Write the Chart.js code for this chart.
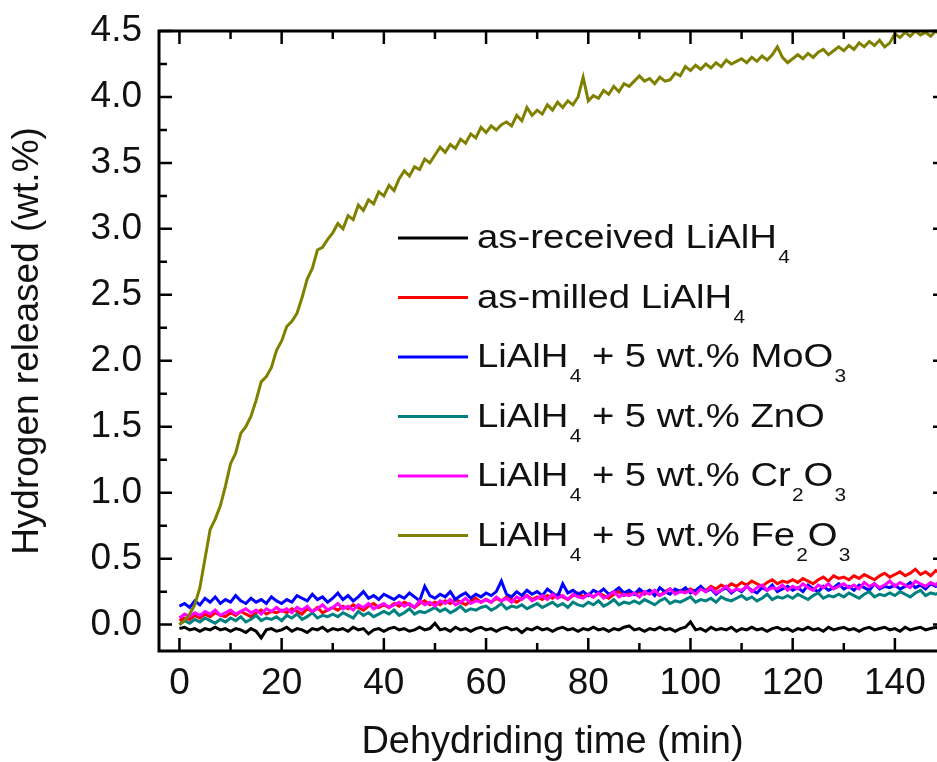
<!DOCTYPE html>
<html>
<head>
<meta charset="utf-8">
<title>Hydrogen released vs dehydriding time</title>
<script src="https://cdn.jsdelivr.net/npm/chart.js@4.4.0/dist/chart.umd.min.js"></script>
<style>
html,body{margin:0;padding:0;background:#fff;overflow:hidden;}
#wrap{width:960px;height:762px;}
</style>
</head>
<body>
<div id="wrap"><canvas id="chart" width="960" height="762"></canvas></div>
<script>
// time axis (min), one reading per minute
const time = [0,1,2,3,4,5,6,7,8,9,10,11,12,13,14,15,16,17,18,19,20,21,22,23,24,25,26,27,28,29,30,31,32,33,34,35,36,37,38,39,40,41,42,43,44,45,46,47,48,49,50,51,52,53,54,55,56,57,58,59,60,61,62,63,64,65,66,67,68,69,70,71,72,73,74,75,76,77,78,79,80,81,82,83,84,85,86,87,88,89,90,91,92,93,94,95,96,97,98,99,100,101,102,103,104,105,106,107,108,109,110,111,112,113,114,115,116,117,118,119,120,121,122,123,124,125,126,127,128,129,130,131,132,133,134,135,136,137,138,139,140,141,142,143,144,145,146,147,148,149,150];

// hydrogen released (wt.%)
const asReceived = [-0.03,-0.02,-0.04,-0.03,-0.05,-0.03,-0.04,-0.02,-0.04,-0.03,
  -0.05,-0.03,-0.04,-0.06,-0.03,-0.05,-0.10,-0.04,-0.03,-0.05,
  -0.04,-0.02,-0.05,-0.03,-0.04,-0.06,-0.03,-0.04,-0.02,-0.05,
  -0.03,-0.04,-0.03,-0.05,-0.02,-0.04,-0.03,-0.07,-0.04,-0.03,
  -0.05,-0.03,-0.02,-0.04,-0.03,-0.05,-0.04,-0.02,-0.04,-0.03,
  0.01,-0.04,-0.03,-0.05,-0.02,-0.04,-0.03,-0.05,-0.03,-0.02,
  -0.04,-0.03,-0.05,-0.03,-0.02,-0.04,-0.03,-0.06,-0.03,-0.04,
  -0.02,-0.04,-0.03,-0.05,-0.03,-0.02,-0.04,-0.03,-0.05,-0.03,
  -0.04,-0.02,-0.04,-0.03,-0.05,-0.03,-0.04,-0.02,-0.01,-0.04,
  -0.03,-0.05,-0.03,-0.04,-0.02,-0.04,-0.03,-0.05,-0.03,-0.02,
  0.02,-0.04,-0.03,-0.05,-0.02,-0.04,-0.03,-0.04,-0.02,-0.05,
  -0.03,-0.04,-0.02,-0.04,-0.03,-0.05,-0.03,-0.02,-0.04,-0.03,
  -0.05,-0.03,-0.04,-0.02,-0.04,-0.03,-0.05,-0.02,-0.04,-0.03,
  -0.02,-0.04,-0.03,-0.05,-0.03,-0.02,-0.04,-0.03,-0.02,-0.04,
  -0.03,-0.05,-0.02,-0.04,-0.03,-0.02,-0.04,-0.03,-0.02,-0.04,-0.03];

const asMilled = [0.03,0.05,0.04,0.07,0.05,0.08,0.06,0.09,0.07,0.06,
  0.09,0.07,0.10,0.08,0.06,0.09,0.11,0.08,0.10,0.09,
  0.11,0.09,0.12,0.10,0.08,0.12,0.10,0.13,0.09,0.11,
  0.13,0.11,0.14,0.12,0.15,0.13,0.11,0.14,0.16,0.13,
  0.15,0.13,0.16,0.14,0.17,0.15,0.13,0.16,0.18,0.15,
  0.17,0.15,0.18,0.16,0.19,0.17,0.15,0.18,0.20,0.17,
  0.19,0.17,0.20,0.18,0.21,0.19,0.17,0.20,0.22,0.19,
  0.21,0.19,0.22,0.20,0.23,0.21,0.19,0.22,0.24,0.21,
  0.23,0.21,0.24,0.22,0.20,0.23,0.25,0.22,0.24,0.23,
  0.25,0.23,0.26,0.24,0.22,0.25,0.27,0.24,0.26,0.25,
  0.27,0.25,0.28,0.26,0.29,0.27,0.30,0.28,0.31,0.29,
  0.32,0.30,0.33,0.31,0.29,0.32,0.34,0.31,0.33,0.32,
  0.34,0.32,0.35,0.33,0.31,0.34,0.36,0.33,0.37,0.35,
  0.36,0.34,0.37,0.35,0.38,0.36,0.34,0.37,0.39,0.36,
  0.38,0.40,0.37,0.39,0.42,0.38,0.40,0.37,0.41,0.39,0.40];

const withMoO3 = [0.14,0.16,0.13,0.18,0.15,0.20,0.17,0.21,0.16,0.19,
  0.17,0.22,0.18,0.16,0.20,0.17,0.19,0.16,0.21,0.18,
  0.16,0.19,0.17,0.22,0.20,0.18,0.23,0.19,0.21,0.17,
  0.20,0.24,0.19,0.22,0.18,0.21,0.25,0.20,0.22,0.19,
  0.23,0.21,0.19,0.22,0.20,0.24,0.21,0.18,0.29,0.22,
  0.20,0.23,0.21,0.25,0.19,0.22,0.24,0.20,0.23,0.21,
  0.24,0.22,0.25,0.33,0.23,0.21,0.25,0.22,0.26,0.23,
  0.25,0.22,0.27,0.24,0.21,0.31,0.24,0.26,0.23,0.25,
  0.22,0.26,0.24,0.27,0.23,0.25,0.28,0.24,0.26,0.23,
  0.27,0.24,0.26,0.22,0.28,0.25,0.23,0.27,0.25,0.28,
  0.24,0.26,0.29,0.25,0.27,0.23,0.26,0.28,0.24,0.27,
  0.25,0.29,0.26,0.24,0.28,0.26,0.30,0.25,0.27,0.29,
  0.26,0.28,0.25,0.30,0.27,0.25,0.29,0.26,0.28,0.31,
  0.27,0.29,0.26,0.30,0.28,0.26,0.31,0.27,0.29,0.28,
  0.30,0.27,0.29,0.32,0.28,0.30,0.27,0.31,0.29,0.30,0.28];

const withZnO = [0.00,0.03,0.01,0.04,0.02,0.05,0.03,0.01,0.04,0.02,
  0.05,0.03,0.06,0.02,0.04,0.07,0.03,0.05,0.04,0.06,
  0.03,0.07,0.05,0.08,0.04,0.06,0.09,0.05,0.07,0.06,
  0.08,0.06,0.09,0.07,0.05,0.10,0.07,0.09,0.06,0.08,
  0.10,0.08,0.11,0.07,0.09,0.12,0.08,0.10,0.09,0.11,
  0.13,0.10,0.12,0.09,0.11,0.14,0.10,0.12,0.11,0.13,
  0.14,0.11,0.13,0.16,0.12,0.14,0.13,0.15,0.12,0.14,
  0.16,0.13,0.15,0.17,0.14,0.16,0.13,0.17,0.15,0.14,
  0.17,0.15,0.18,0.14,0.16,0.19,0.15,0.17,0.16,0.18,
  0.16,0.19,0.17,0.15,0.18,0.20,0.16,0.18,0.17,0.19,
  0.21,0.17,0.19,0.18,0.20,0.17,0.21,0.19,0.18,0.20,
  0.22,0.19,0.21,0.18,0.20,0.23,0.19,0.21,0.20,0.22,
  0.20,0.23,0.21,0.19,0.22,0.24,0.20,0.22,0.21,0.23,
  0.21,0.24,0.22,0.20,0.23,0.25,0.21,0.23,0.22,0.24,
  0.22,0.25,0.23,0.21,0.24,0.26,0.22,0.24,0.23,0.25,0.24];

const withCr2O3 = [0.05,0.08,0.06,0.09,0.07,0.10,0.08,0.11,0.07,0.09,
  0.11,0.08,0.10,0.12,0.09,0.11,0.08,0.12,0.10,0.13,
  0.10,0.12,0.09,0.13,0.11,0.14,0.10,0.12,0.15,0.11,
  0.13,0.16,0.12,0.14,0.11,0.15,0.13,0.16,0.12,0.14,
  0.16,0.13,0.15,0.17,0.14,0.16,0.13,0.18,0.15,0.17,
  0.14,0.18,0.16,0.19,0.15,0.17,0.20,0.16,0.18,0.17,
  0.19,0.17,0.21,0.18,0.20,0.17,0.21,0.19,0.22,0.18,
  0.20,0.22,0.19,0.23,0.20,0.22,0.19,0.23,0.21,0.20,
  0.23,0.21,0.24,0.20,0.22,0.25,0.21,0.23,0.22,0.24,
  0.21,0.25,0.23,0.26,0.22,0.24,0.27,0.23,0.25,0.24,
  0.26,0.23,0.27,0.25,0.28,0.24,0.26,0.29,0.25,0.27,
  0.26,0.29,0.25,0.28,0.30,0.26,0.28,0.27,0.30,0.26,
  0.29,0.27,0.31,0.28,0.26,0.30,0.28,0.31,0.27,0.29,
  0.31,0.28,0.30,0.27,0.32,0.29,0.31,0.28,0.30,0.33,
  0.29,0.32,0.30,0.28,0.33,0.31,0.29,0.32,0.30,0.34,0.32];

const withFe2O3 = [0.00,0.03,0.08,0.15,0.28,0.50,0.72,0.80,0.90,1.05,
  1.22,1.30,1.45,1.50,1.58,1.70,1.84,1.88,1.95,2.08,
  2.15,2.26,2.30,2.36,2.48,2.62,2.70,2.84,2.86,2.92,
  2.97,3.04,3.00,3.10,3.07,3.18,3.14,3.22,3.19,3.28,
  3.25,3.33,3.29,3.38,3.44,3.40,3.47,3.45,3.53,3.50,
  3.56,3.62,3.58,3.64,3.61,3.68,3.65,3.72,3.69,3.77,
  3.73,3.78,3.75,3.79,3.81,3.78,3.86,3.82,3.92,3.86,
  3.90,3.87,3.94,3.90,3.96,3.92,3.97,3.94,4.00,4.15,
  3.97,4.01,3.99,4.05,4.02,4.08,4.04,4.10,4.08,4.12,
  4.16,4.12,4.14,4.10,4.15,4.12,4.13,4.18,4.16,4.23,
  4.20,4.24,4.21,4.25,4.22,4.26,4.23,4.28,4.25,4.27,
  4.29,4.26,4.30,4.27,4.31,4.28,4.32,4.38,4.30,4.26,
  4.29,4.32,4.29,4.33,4.30,4.34,4.36,4.32,4.35,4.38,
  4.35,4.39,4.36,4.41,4.38,4.42,4.39,4.43,4.38,4.41,
  4.48,4.45,4.49,4.46,4.50,4.47,4.49,4.46,4.50,4.47,4.49];

const seriesLabels = ['as-received LiAlH₄', 'as-milled LiAlH₄', 'LiAlH₄ + 5 wt.% MoO₃',
  'LiAlH₄ + 5 wt.% ZnO', 'LiAlH₄ + 5 wt.% Cr₂O₃', 'LiAlH₄ + 5 wt.% Fe₂O₃'];
const seriesColors = ['#000000', '#ff0000', '#0000ff', '#008080', '#ff00ff', '#808000'];
const seriesValues = [asReceived, asMilled, withMoO3, withZnO, withCr2O3, withFe2O3];
// drawing order: Fe2O3 on top, then Cr2O3, ZnO, MoO3, as-milled, as-received
const seriesOrder = [5, 4, 3, 2, 1, 0];

// tick positions
const xMajor = [0, 20, 40, 60, 80, 100, 120, 140];
const xMinor = [10, 30, 50, 70, 90, 110, 130, 150];
const yMajor = [0, 0.5, 1.0, 1.5, 2.0, 2.5, 3.0, 3.5, 4.0, 4.5];
const yMinor = [0.25, 0.75, 1.25, 1.75, 2.25, 2.75, 3.25, 3.75, 4.25];

const FONT = "'Liberation Sans', Arial, sans-serif";
const SUB = {'₂': '2', '₃': '3', '₄': '4'};

// box frame with inward ticks on all four sides
const framePlugin = {
  id: 'frame',
  afterDatasetsDraw(chart) {
    const {ctx, chartArea: a, scales: {x, y}} = chart;
    ctx.save();
    ctx.strokeStyle = '#000';
    ctx.lineWidth = 3;
    ctx.strokeRect(a.left, a.top, a.right - a.left, a.bottom - a.top);
    ctx.lineWidth = 2.5;
    ctx.beginPath();
    const xt = (v, len) => {
      const px = x.getPixelForValue(v);
      ctx.moveTo(px, a.bottom); ctx.lineTo(px, a.bottom - len);
      ctx.moveTo(px, a.top); ctx.lineTo(px, a.top + len);
    };
    const yt = (v, len) => {
      const py = y.getPixelForValue(v);
      ctx.moveTo(a.left, py); ctx.lineTo(a.left + len, py);
      ctx.moveTo(a.right, py); ctx.lineTo(a.right - len, py);
    };
    xMajor.forEach(v => xt(v, 13));
    xMinor.forEach(v => xt(v, 8));
    yMajor.forEach(v => yt(v, 13));
    yMinor.forEach(v => yt(v, 8));
    ctx.stroke();
    ctx.restore();
  }
};

// legend inside the plot, with real subscripts
const legendPlugin = {
  id: 'subLegend',
  afterDraw(chart) {
    const {ctx} = chart;
    const x0 = 398, lineLen = 70, textX = 477, top = 238, step = 59.5;
    const sx = 1.16;
    ctx.save();
    chart.data.datasets.forEach((ds, i) => {
      const yy = top + i * step;
      ctx.strokeStyle = ds.borderColor;
      ctx.lineWidth = 3;
      ctx.beginPath();
      ctx.moveTo(x0, yy);
      ctx.lineTo(x0 + lineLen, yy);
      ctx.stroke();

      ctx.save();
      ctx.translate(textX, yy + 10);
      ctx.scale(sx, 1);
      ctx.fillStyle = '#111';
      ctx.textBaseline = 'alphabetic';
      let cx = 0;
      let run = '';
      const flush = () => {
        if (!run) return;
        ctx.font = '33px ' + FONT;
        ctx.fillText(run, cx, 0);
        cx += ctx.measureText(run).width;
        run = '';
      };
      for (const ch of ds.label) {
        if (SUB[ch]) {
          flush();
          ctx.font = '18px ' + FONT;
          cx += 1;
          ctx.fillText(SUB[ch], cx, 15);
          cx += ctx.measureText(SUB[ch]).width;
        } else {
          run += ch;
        }
      }
      flush();
      ctx.restore();
    });
    ctx.restore();
  }
};

const datasets = seriesLabels.map((label, i) => ({
  label: label,
  data: time.map((t, k) => ({x: t, y: seriesValues[i][k]})),
  borderColor: seriesColors[i],
  backgroundColor: seriesColors[i],
  borderWidth: 3,
  pointRadius: 0,
  tension: 0,
  fill: false,
  order: seriesOrder[i]
}));

new Chart(document.getElementById('chart').getContext('2d'), {
  type: 'line',
  data: {datasets: datasets},
  options: {
    responsive: false,
    animation: false,
    devicePixelRatio: 1,
    layout: {padding: {top: 31, right: 14, left: 0, bottom: 0}},
    plugins: {legend: {display: false}, tooltip: {enabled: false}},
    scales: {
      x: {
        type: 'linear',
        min: -4, max: 150,
        grid: {display: false, drawTicks: false},
        border: {display: false},
        afterBuildTicks: s => { s.ticks = xMajor.map(v => ({value: v})); },
        afterFit: s => { s.height = 111; s.paddingLeft = 0; s.paddingRight = 0; },
        ticks: {color: '#111', padding: 11, font: {family: FONT, size: 37}, maxRotation: 0, autoSkip: false},
        title: {display: true, text: 'Dehydriding time (min)', color: '#111',
          font: {family: FONT, size: 38, lineHeight: 1}, padding: {top: 0, bottom: 0}}
      },
      y: {
        min: -0.2, max: 4.5,
        grid: {display: false, drawTicks: false},
        border: {display: false},
        afterBuildTicks: s => { s.ticks = yMajor.map(v => ({value: v})); },
        afterFit: s => { s.width = 159; s.paddingTop = 0; s.paddingBottom = 0; },
        ticks: {color: '#111', padding: 17, font: {family: FONT, size: 37},
          callback: v => Number(v).toFixed(1)},
        title: {display: true, text: 'Hydrogen released (wt.%)', color: '#111',
          font: {family: FONT, size: 37, lineHeight: 1}, padding: {top: 9, bottom: 0}}
      }
    }
  },
  plugins: [framePlugin, legendPlugin]
});
</script>
</body>
</html>
